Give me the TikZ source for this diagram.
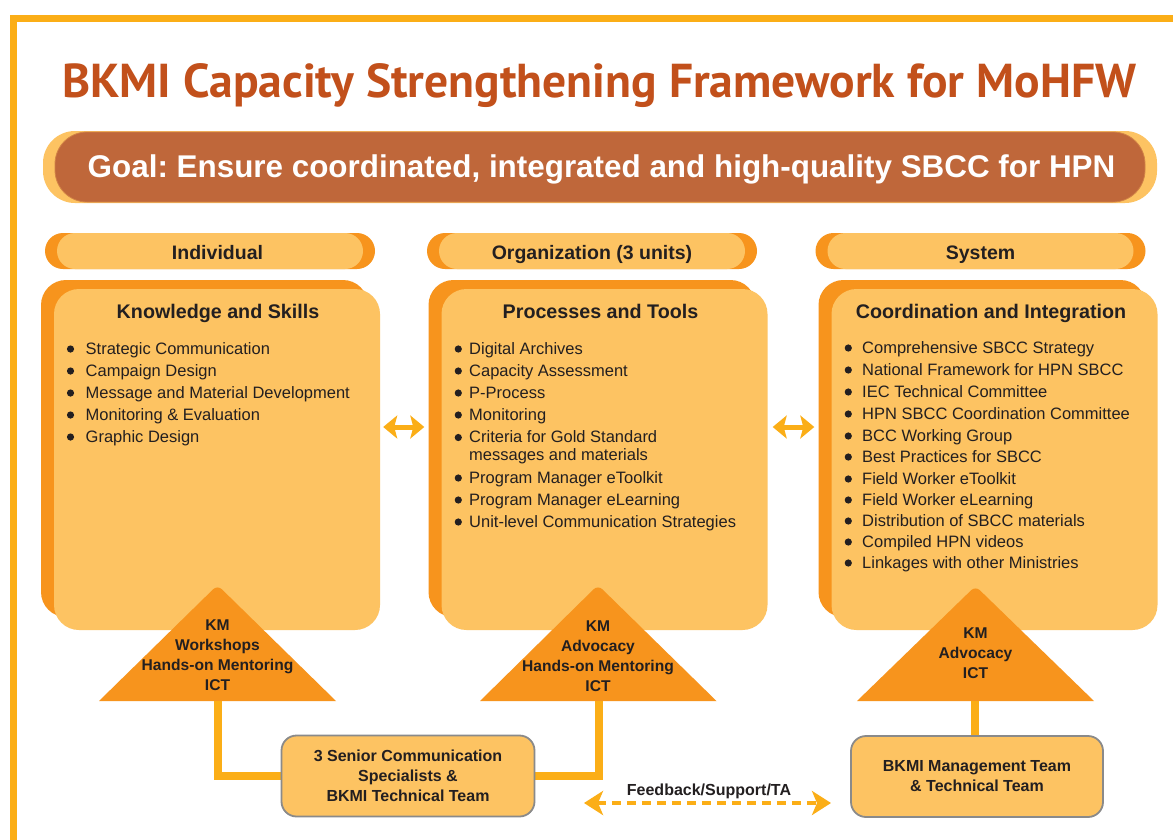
\documentclass[tikz,border=0pt]{standalone}
\usepackage{fontspec}
\setmainfont{Liberation Sans}
\newfontfamily\titlefont{PT Sans}
\usetikzlibrary{arrows.meta,calc}
\definecolor{frameY}{HTML}{FBAE17}
\definecolor{darkO}{HTML}{F7941D}
\definecolor{lightO}{HTML}{FDC362}
\definecolor{goalB}{HTML}{BF673A}
\definecolor{titleC}{HTML}{C2501B}
\definecolor{txt}{HTML}{231F20}
\definecolor{boxline}{HTML}{8A8A8A}
\frenchspacing
\tikzset{
  every node/.append style={text=txt, inner sep=0pt},
  pillback/.style={fill=darkO, rounded corners=18pt, minimum width=330pt, minimum height=36pt},
  pillfront/.style={fill=lightO, rounded corners=18pt, minimum width=306pt, minimum height=36pt},
  hdr/.style={anchor=base, font=\bfseries\fontsize{19.5}{22}\selectfont},
  boxback/.style={fill=darkO, rounded corners=25pt, minimum width=327pt, minimum height=337pt},
  boxfront/.style={fill=lightO, rounded corners=25pt, minimum width=326pt, minimum height=341pt},
  boxtitle/.style={anchor=base, font=\bfseries\fontsize{19.7}{22}\selectfont},
  itemtxt/.style={anchor=base west, font=\fontsize{16.5}{20}\selectfont},
  tritxt/.style={align=center, font=\bfseries\fontsize{15.6}{20}\selectfont},
  teambox/.style={fill=lightO, draw=boxline, line width=1.8pt, rounded corners=15pt, align=center, font=\bfseries\fontsize{16}{20}\selectfont},
  conn/.style={draw=frameY, line width=8pt},
  boxarr/.style={draw=frameY, line width=5pt, {Stealth[length=14pt,width=23pt,inset=3pt]}-{Stealth[length=14pt,width=23pt,inset=3pt]}},
  fbarr/.style={draw=frameY, line width=4pt, dash pattern=on 9pt off 6pt, {Stealth[length=19pt,width=24pt,inset=5pt]}-{Stealth[length=19pt,width=24pt,inset=5pt]}}
}
\begin{document}
\begin{tikzpicture}[x=1pt,y=-1pt]
\useasboundingbox (0,0) rectangle (1173,839);
\fill[white] (0,0) rectangle (1173,839);
% frame
\draw[line width=7pt, frameY] (13.5,880) -- (13.5,18.5) -- (1200,18.5);
% title
\node[anchor=base west, text=titleC] (title) at (62,97) {\resizebox{1074pt}{!}{\titlefont\bfseries BKMI Capacity Strengthening Framework for MoHFW}};
% goal banner
\node[fill=lightO, rounded corners=32pt, minimum width=1114pt, minimum height=72pt] (goalback) at (600,167) {};
\node[fill=goalB, draw=goalB!70!lightO, line width=0.8pt, rounded corners=32pt, minimum width=1090pt, minimum height=70pt] (goalfront) at (600,167) {};
\node[anchor=base, text=white, font=\bfseries\fontsize{31.4}{34}\selectfont] (goal) at (601.5,177) {Goal: Ensure coordinated, integrated and high-quality SBCC for HPN};
% header pills
\node[pillback] (ph1) at (210,251) {};
\node[pillfront] (pf1) at (210,251) {};
\node[hdr] (h1) at (217.5,259) {Individual};
\node[pillback] (ph2) at (592,251) {};
\node[pillfront] (pf2) at (592,251) {};
\node[hdr] (h2) at (592,259) {Organization (3 units)};
\node[pillback] (ph3) at (980.5,251) {};
\node[pillfront] (pf3) at (980.5,251) {};
\node[hdr] (h3) at (980.5,259) {System};
% main boxes
\node[boxback] (kb) at (204.5,448.5) {};
\node[boxfront] (kf) at (217,459.5) {};
\node[boxback] (pb) at (592,448.5) {};
\node[boxfront] (pf) at (604.5,459.5) {};
\node[boxback] (sb) at (982,448.5) {};
\node[boxfront] (sf) at (994.5,459.5) {};
\node[boxtitle] (kt) at (218,318) {Knowledge and Skills};
\node[boxtitle] (pt) at (600.5,318) {Processes and Tools};
\node[boxtitle] (st) at (991,318) {Coordination and Integration};
% lists
\foreach \y/\t [count=\i] in {348/Strategic Communication, 370/Campaign Design, 392/Message and Material Development, 414/Monitoring \& Evaluation, 436/Graphic Design}{
  \fill[txt] (70.5,\y+1) circle (3.6pt);
  \node[itemtxt] (ki\i) at (85.5,\y+6) {\t};
}
\foreach \y/\t [count=\i] in {348/Digital Archives, 370/Capacity Assessment, 392/P-Process, 414/Monitoring, 436.5/Criteria for Gold Standard, 477/Program Manager eToolkit, 499/Program Manager eLearning, 521/Unit-level Communication Strategies}{
  \fill[txt] (458.3,\y+1) circle (3.6pt);
  \node[itemtxt] (pi\i) at (469,\y+6) {\t};
}
\node[itemtxt] (pi5b) at (469,460.5) {messages and materials};
\foreach \y/\t [count=\i] in {347/Comprehensive SBCC Strategy, 369/National Framework for HPN SBCC, 391/IEC Technical Committee, 413/HPN SBCC Coordination Committee, 435/BCC Working Group, 456/Best Practices for SBCC, 478/Field Worker eToolkit, 499/Field Worker eLearning, 520/Distribution of SBCC materials, 541/Compiled HPN videos, 562/Linkages with other Ministries}{
  \fill[txt] (848.3,\y+1) circle (3.6pt);
  \node[itemtxt] (si\i) at (862,\y+6) {\t};
}
% arrows between boxes
\coordinate (arry) at (0,427);
\draw[boxarr] ([xshift=3pt]kf.east |- arry) -- ([xshift=-4pt]pb.west |- arry);
\draw[boxarr] ([xshift=5pt]pf.east |- arry) -- ([xshift=-4pt]sb.west |- arry);
% triangles
\fill[darkO] (99,701) [rounded corners=6pt] -- (217.5,585) [sharp corners] -- (336,701) -- cycle;
\fill[darkO] (480,701) [rounded corners=6pt] -- (598,585) [sharp corners] -- (716.5,701) -- cycle;
\fill[darkO] (857,701) [rounded corners=6pt] -- (975.5,586) [sharp corners] -- (1094,701) -- cycle;
\coordinate (t1b) at (218,701);
\coordinate (t2b) at (599,701);
\coordinate (t3b) at (975,701);
\node[tritxt] (tt1) at (217.5,655) {KM\\Workshops\\Hands-on Mentoring\\ICT};
\node[tritxt] (tt2) at (598,656) {KM\\Advocacy\\Hands-on Mentoring\\ICT};
\node[tritxt] (tt3) at (975.5,653) {KM\\Advocacy\\ICT};
% team boxes
\coordinate (team1c) at (408,776);
\coordinate (team2c) at (977,776.5);
\node[minimum width=253pt, minimum height=81pt] (team1pos) at (team1c) {};
\node[minimum width=252pt, minimum height=81pt] (team2pos) at (team2c) {};
\draw[conn] (t1b) |- (team1pos.west);
\draw[conn] (t2b) |- (team1pos.east);
\draw[conn] (t3b) -- (t3b |- team2pos.north);
\node[teambox, minimum width=253pt, minimum height=81pt] (team1) at (team1c) {3 Senior Communication\\Specialists \&\\BKMI Technical Team};
\node[teambox, minimum width=252pt, minimum height=81pt] (team2) at (team2c) {BKMI Management Team\\\& Technical Team};
% feedback
\coordinate (fbL) at (584,803);
\coordinate (fbR) at (831,803);
\draw[fbarr] (fbL) -- (fbR);
\node[anchor=base, font=\bfseries\fontsize{16}{20}\selectfont] (fb) at (709,795) {Feedback/Support/TA};
\end{tikzpicture}
\end{document}
